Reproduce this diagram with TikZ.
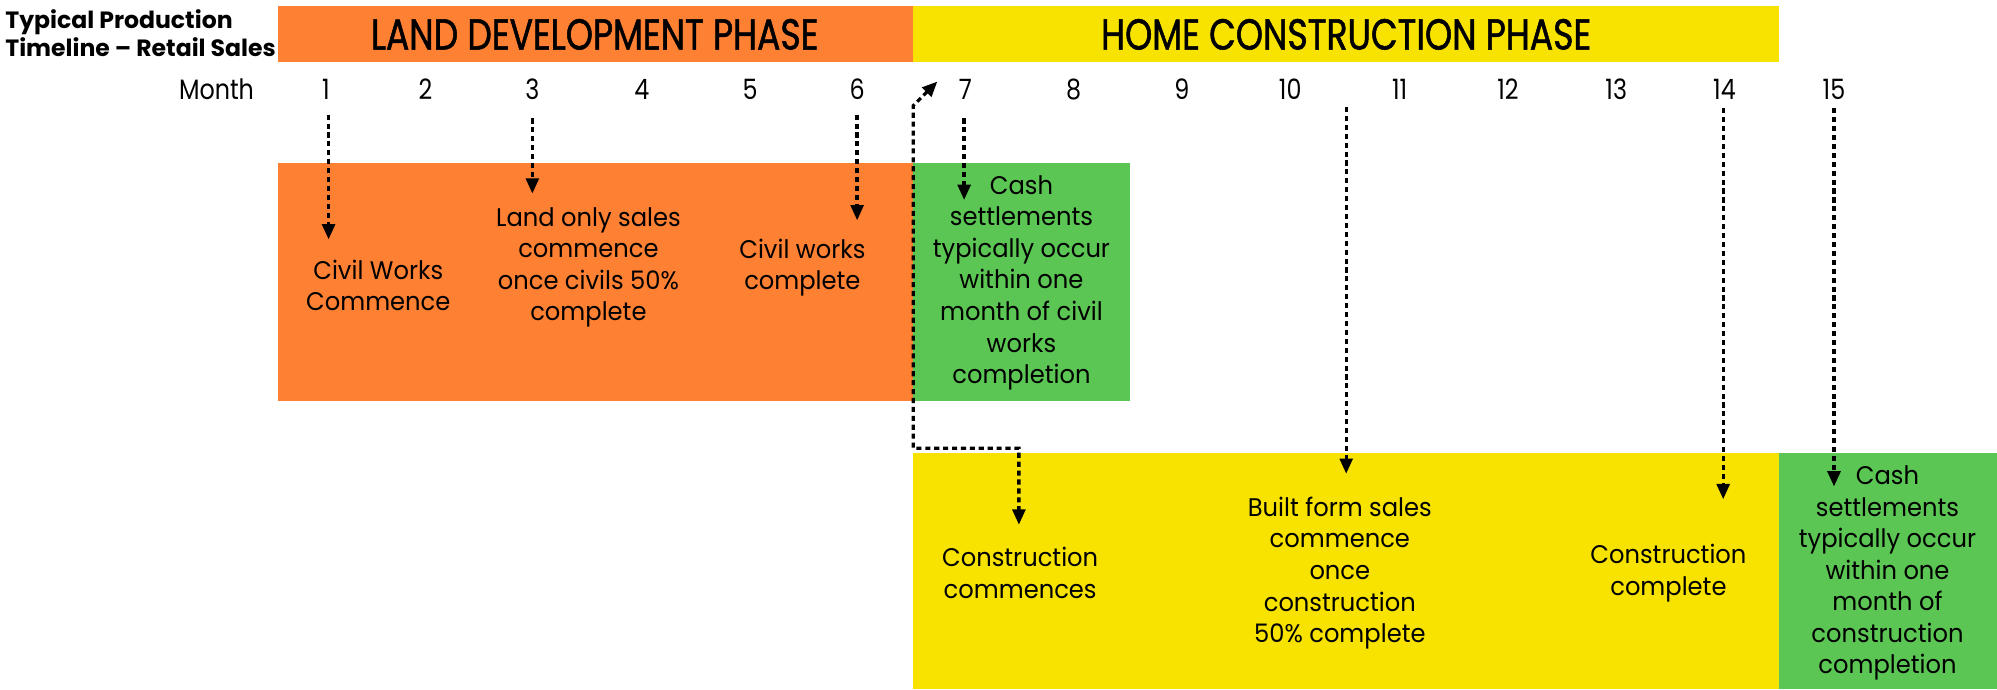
\documentclass[tikz,border=0pt]{standalone}
\usepackage{fontspec}
\setmainfont{Poppins}
\newfontfamily\boxfont[FakeStretch=0.95]{Poppins}
\newfontfamily\narrowfont[FakeStretch=0.85]{Poppins}
\newfontfamily\phasefont[FakeStretch=0.8, FakeBold=1.2]{Poppins}
\usetikzlibrary{arrows.meta}
\definecolor{LandOrange}{HTML}{FE8033}
\definecolor{HomeYellow}{HTML}{F8E300}
\definecolor{CashGreen}{HTML}{5BC653}
\tikzset{
  phase/.style={font=\phasefont\fontsize{34}{36}\selectfont},
  monthlbl/.style={font=\narrowfont\fontsize{22}{24}\selectfont},
  note/.style={align=center, inner sep=0pt, font=\boxfont\fontsize{20}{24.8}\selectfont},
  flow/.style={-{Triangle[length=12pt,width=10pt]}, line width=2.6pt, dash pattern=on 4pt off 3pt},
  flowboth/.style={{Triangle[length=12pt,width=10pt]}-{Triangle[length=12pt,width=10pt]}, line width=2.6pt, dash pattern=on 4pt off 3pt}
}

\begin{document}
\begin{tikzpicture}[x=1pt, y=-1pt]
    \useasboundingbox (0,0) rectangle (1568,541);

    % Title
    \node[anchor=west, align=left, inner sep=0pt, font=\bfseries\fontsize{18.5}{22}\selectfont] (title) at (4,26)
        {Typical Production\\Timeline – Retail Sales};

    % Phase bars
    \fill[LandOrange] (218,5) rectangle (717,49);
    \fill[HomeYellow] (717,5) rectangle (1397,49);
    \node[phase] (landphase) at (467,27) {LAND DEVELOPMENT PHASE};
    \node[phase] (homephase) at (1057,27) {HOME CONSTRUCTION PHASE};

    % Month row
    \node[monthlbl] (month) at (170,70) {Month};
    \foreach \i/\x in {1/256, 2/334, 3/418, 4/504, 5/589, 6/673, 7/758, 8/843,
                      9/928, 10/1013, 11/1099, 12/1184, 13/1269, 14/1354, 15/1440}
        \node[monthlbl] (m\i) at (\x,70) {\i};

    % Land development boxes
    \fill[LandOrange] (218,128) rectangle (717,315);
    \fill[CashGreen] (717,128) rectangle (887,315);

    % Home construction boxes
    \fill[HomeYellow] (717,356) rectangle (1397,541);
    \fill[CashGreen] (1397,356) rectangle (1568,541);

    % Milestone texts
    \node[note] (civstart) at (297,224) {Civil Works\\Commence};
    \node[note] (landsales) at (462,210) {Land only sales\\commence\\once civils 50\%\\complete};
    \node[note] (civdone) at (630,210) {Civil works\\complete};
    \node[note] (cashland) at (802,222) {Cash\\settlements\\typically occur\\within one\\month of civil\\works\\completion};
    \node[note] (constart) at (801,450) {Construction\\commences};
    \node[note] (builtsales) at (1052,450) {Built form sales\\commence\\once\\construction\\50\% complete};
    \node[note] (condone) at (1310,450) {Construction\\complete};
    \node[note] (cashhome) at (1482,450) {Cash\\settlements\\typically occur\\within one\\month of\\construction\\completion};

    % Arrow ends
    \coordinate (s1) at (258,90);   \coordinate (e1) at (258,188);
    \coordinate (s3) at (418,93);   \coordinate (e3) at (418,152);
    \coordinate (s6) at (673,90);   \coordinate (e6) at (673,173);
    \coordinate (s7) at (757,93);   \coordinate (e7) at (757,157);
    \coordinate (s10) at (1057,84); \coordinate (e10) at (1057,372);
    \coordinate (s14) at (1353,85); \coordinate (e14) at (1353,392);
    \coordinate (s15) at (1440,85); \coordinate (e15) at (1440,382);
    \coordinate (loopa) at (736,64);
    \coordinate (loopb) at (717,83);
    \coordinate (loopc) at (717,352);
    \coordinate (loopd) at (800,352);
    \coordinate (loope) at (800,412);

    % Arrows
    \foreach \n in {1,3,6,7,10,14,15}
        \draw[flow] (s\n) -- (e\n);
    \draw[flowboth] (loopa) -- (loopb) -- (loopc) -- (loopd) -- (loope);

\end{tikzpicture}
\end{document}
